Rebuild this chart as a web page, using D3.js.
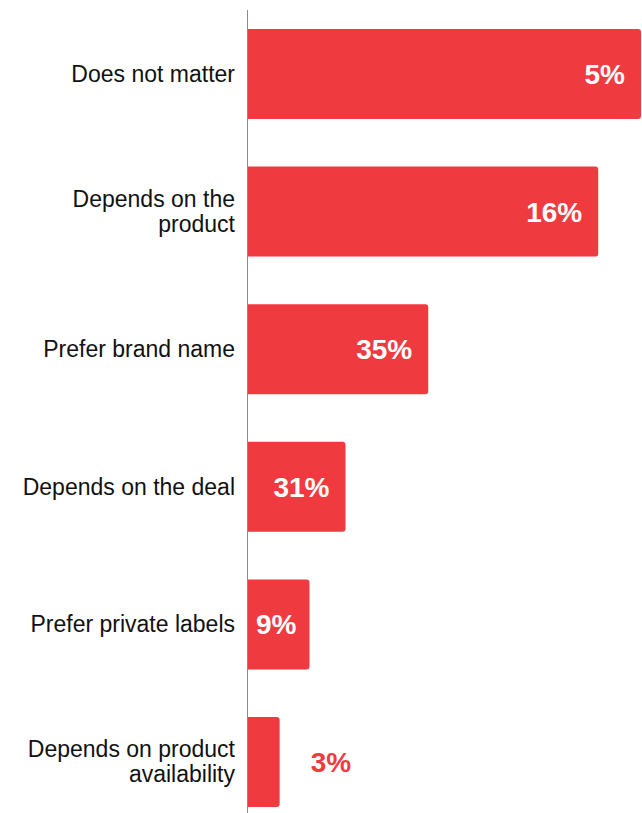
<!DOCTYPE html>
<html>
<head>
<meta charset="utf-8">
<script src="https://cdn.jsdelivr.net/npm/d3@7"></script>
<style>
  html, body { margin: 0; padding: 0; background: #ffffff; }
  svg { display: block; }
</style>
</head>
<body>
<svg id="chart" width="642" height="813"></svg>
<script>
// Category names, each split into display lines
const categories = [
  "Does not matter",
  "Depends on the product",
  "Prefer brand name",
  "Depends on the deal",
  "Prefer private labels",
  "Depends on product availability"
];
const categoryLines = [
  ["Does not matter"],
  ["Depends on the", "product"],
  ["Prefer brand name"],
  ["Depends on the deal"],
  ["Prefer private labels"],
  ["Depends on product", "availability"]
];
// Bar lengths, in percent
const barValues = [35, 31.2, 16.1, 8.75, 5.55, 2.9];
// Value labels printed on the bars
const valueLabels = ["5%", "16%", "35%", "31%", "9%", "3%"];

const RED = "#EF3B3F";
const svg = d3.select("#chart");

const x = d3.scaleLinear()
  .domain([0, 35])
  .range([247, 641]);

const y = d3.scaleBand()
  .domain(categories)
  .range([5.2, 830.8])
  .paddingInner(0.346)
  .paddingOuter(0.173);

// Bars: square on the axis side, slightly rounded at the far end
function barPath(x0, x1, y0, h, r) {
  r = Math.min(r, (x1 - x0) / 2, h / 2);
  return `M${x0},${y0}H${x1 - r}Q${x1},${y0} ${x1},${y0 + r}` +
         `V${y0 + h - r}Q${x1},${y0 + h} ${x1 - r},${y0 + h}H${x0}Z`;
}

svg.append("g")
  .selectAll("path")
  .data(categories)
  .join("path")
  .attr("d", (c, i) => barPath(x(0), x(barValues[i]), y(c), y.bandwidth(), 3))
  .attr("fill", RED);

// Vertical axis line
svg.append("line")
  .attr("x1", x(0) + 0.5).attr("x2", x(0) + 0.5)
  .attr("y1", 10).attr("y2", 813)
  .attr("stroke", "#8c8c8c")
  .attr("stroke-width", 1);

// Category labels, right-aligned to the left of the axis
const catG = svg.append("g")
  .attr("font-family", "Liberation Sans, Arial, sans-serif")
  .attr("font-size", 23)
  .attr("fill", "#111111");

categories.forEach((c, i) => {
  const lines = categoryLines[i];
  const cy = y(c) + y.bandwidth() / 2;
  const lh = 25;
  const t = catG.append("text")
    .attr("text-anchor", "end")
    .attr("x", 235);
  lines.forEach((ln, k) => {
    t.append("tspan")
      .attr("x", 235)
      .attr("y", cy + 7.8 + (k - (lines.length - 1) / 2) * lh)
      .text(ln);
  });
});

// Value labels: inside the bar end when they fit, otherwise after it
const valG = svg.append("g")
  .attr("font-family", "Liberation Sans, Arial, sans-serif")
  .attr("font-size", 28)
  .attr("font-weight", "bold");

categories.forEach((c, i) => {
  const cy = y(c) + y.bandwidth() / 2;
  const x1 = x(barValues[i]);
  const t = valG.append("text")
    .attr("y", cy + 10)
    .text(valueLabels[i]);
  const w = t.node().getComputedTextLength();
  const barW = x1 - x(0);
  if (barW >= w + 15) {
    const xs = Math.max(x1 - 16 - w, x(0) + 9);
    t.attr("x", xs).attr("text-anchor", "start").attr("fill", "#ffffff");
  } else {
    t.attr("x", x1 + 31).attr("text-anchor", "start").attr("fill", RED);
  }
});
</script>
</body>
</html>
